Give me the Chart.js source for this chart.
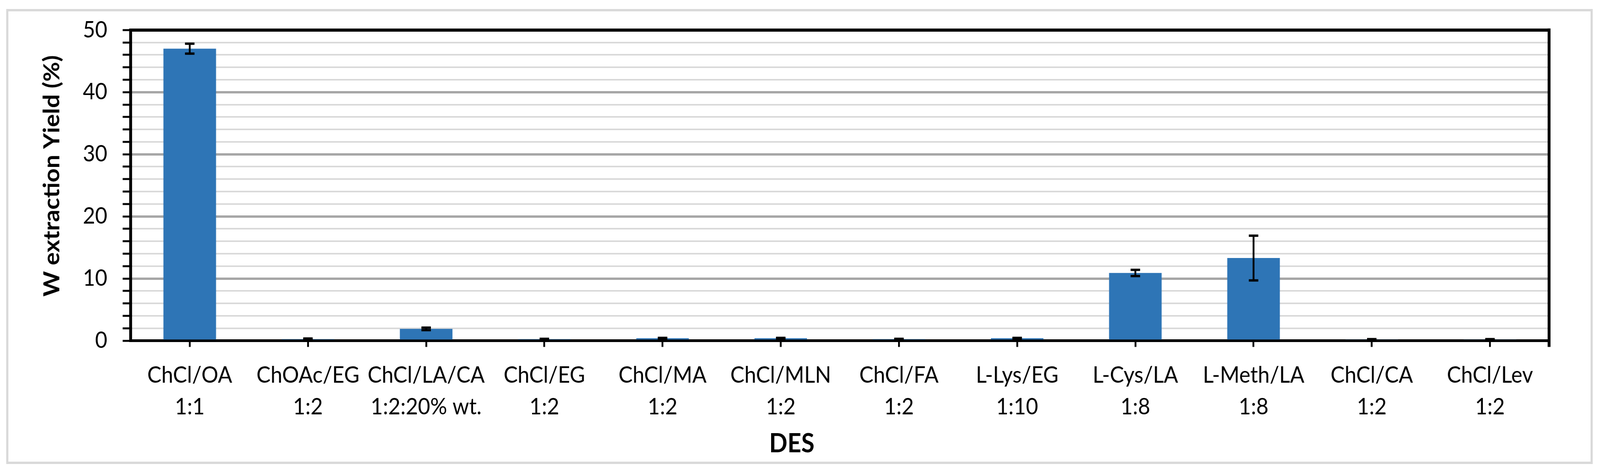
<!DOCTYPE html>
<html>
<head>
<meta charset="utf-8">
<script src="https://cdn.jsdelivr.net/npm/chart.js@4/dist/chart.umd.min.js"></script>
<style>
  html, body { margin: 0; padding: 0; background: #fff; overflow: hidden; }
  /* the window is narrower than the drawing: fit the 4397x1210 canvas into it */
  canvas { display: block; width: 100vw !important; height: 100vh !important; }
</style>
</head>
<body>
<canvas id="desChart" width="4397" height="1210"></canvas>
<script>
// DES names and molar ratios (two-line category labels)
const desNames = ['ChCl/OA', 'ChOAc/EG', 'ChCl/LA/CA', 'ChCl/EG', 'ChCl/MA', 'ChCl/MLN',
                  'ChCl/FA', 'L-Lys/EG', 'L-Cys/LA', 'L-Meth/LA', 'ChCl/CA', 'ChCl/Lev'];
const desRatios = ['1:1', '1:2', '1:2:20% wt.', '1:2', '1:2', '1:2',
                   '1:2', '1:10', '1:8', '1:8', '1:2', '1:2'];

// W extraction yield (%) and its standard deviation
const yieldValues = [47.0, 0.25, 1.9, 0.25, 0.4, 0.4, 0.25, 0.4, 10.9, 13.3, 0.2, 0.2];
const yieldErrors = [0.8, 0.1, 0.2, 0.05, 0.05, 0.05, 0.05, 0.05, 0.5, 3.6, 0.05, 0.05];

const yMin = 0, yMax = 50, yMinorStep = 2, yMajorStep = 10;

const yTitle = 'W extraction Yield (%)';
const xTitle = 'DES';

const FONT = 'Lato';

const framePlugin = {
    id: 'frame',
    beforeDraw: function (chart) {
        const ctx = chart.ctx;
        ctx.save();
        ctx.strokeStyle = '#d9d9d9';
        ctx.lineWidth = 6;
        ctx.strokeRect(20, 26, 4354, 1158);
        ctx.restore();
    },
    afterDatasetsDraw: function (chart) {
        // error bars
        const ctx = chart.ctx,
            yScale = chart.scales.y,
            meta = chart.getDatasetMeta(0);
        ctx.save();
        ctx.strokeStyle = '#000';
        ctx.fillStyle = '#000';
        meta.data.forEach(function (bar, i) {
            const v = yieldValues[i], e = yieldErrors[i];
            const top = yScale.getPixelForValue(v + e);
            const bot = yScale.getPixelForValue(v - e);
            ctx.lineWidth = 5;
            ctx.beginPath();
            ctx.moveTo(bar.x, top);
            ctx.lineTo(bar.x, bot);
            ctx.stroke();
            ctx.fillRect(bar.x - 13, top - 3, 26, 6);
            ctx.fillRect(bar.x - 13, bot - 3, 26, 6);
        });
        ctx.restore();
    },
    afterDraw: function (chart) {
        const ctx = chart.ctx, area = chart.chartArea;
        ctx.save();
        // right border of plot area, with the closing tick below
        ctx.strokeStyle = '#000';
        ctx.lineWidth = 8;
        ctx.beginPath();
        ctx.moveTo(area.right, area.top - 4);
        ctx.lineTo(area.right, area.bottom + 16);
        ctx.stroke();

        // axis titles
        ctx.fillStyle = '#000';
        ctx.font = 'bold 66px ' + FONT;
        ctx.textAlign = 'center';
        ctx.textBaseline = 'alphabetic';
        ctx.fillText(xTitle, 2176, 1157);

        ctx.font = 'bold 62px ' + FONT;
        ctx.translate(163, 450);
        ctx.rotate(-Math.PI / 2);
        ctx.fillText(yTitle, 0, 0);
        ctx.restore();
    }
};

const labels = desNames.map(function (n, i) { return [n, desRatios[i]]; });

new Chart(document.getElementById('desChart').getContext('2d'), {
    type: 'bar',
    data: {
        labels: labels,
        datasets: [{
            data: yieldValues,
            backgroundColor: '#2e75b6',
            borderWidth: 0,
            barPercentage: 0.445,
            categoryPercentage: 1.0
        }]
    },
    options: {
        responsive: false,
        animation: false,
        devicePixelRatio: 1,
        layout: { padding: { left: 0, right: 140, top: 74, bottom: 0 } },
        plugins: {
            legend: { display: false },
            tooltip: { enabled: false }
        },
        scales: {
            x: {
                z: 1,
                offset: true,
                grid: {
                    offset: false,
                    drawOnChartArea: false,
                    drawTicks: true,
                    tickLength: 16,
                    tickColor: '#000',
                    tickWidth: 5
                },
                border: { display: true, color: '#000', width: 7 },
                ticks: {
                    color: '#000',
                    font: { family: FONT, size: 58, lineHeight: '81px' },
                    padding: 32,
                    maxRotation: 0,
                    autoSkip: false
                },
                afterFit: function (scale) { scale.height = 1210 - 871.5; }
            },
            y: {
                min: yMin,
                max: yMax,
                grid: {
                    color: function (c) {
                        if (c.tick.value === yMax) return '#000';
                        return c.tick.value % yMajorStep === 0 ? '#a6a6a6' : '#d9d9d9';
                    },
                    lineWidth: function (c) {
                        if (c.tick.value === yMax) return 8;
                        return c.tick.value % yMajorStep === 0 ? 6 : 4;
                    },
                    tickLength: 22,
                    tickColor: '#000',
                    tickWidth: 5
                },
                border: { display: true, color: '#000', width: 8 },
                ticks: {
                    stepSize: yMinorStep,
                    autoSkip: false,
                    color: '#000',
                    padding: 42,
                    font: { family: FONT, size: 58 },
                    callback: function (v) { return v % yMajorStep === 0 ? v : ''; }
                },
                afterFit: function (scale) { scale.width = 359; }
            }
        }
    },
    plugins: [framePlugin]
});
</script>
</body>
</html>
